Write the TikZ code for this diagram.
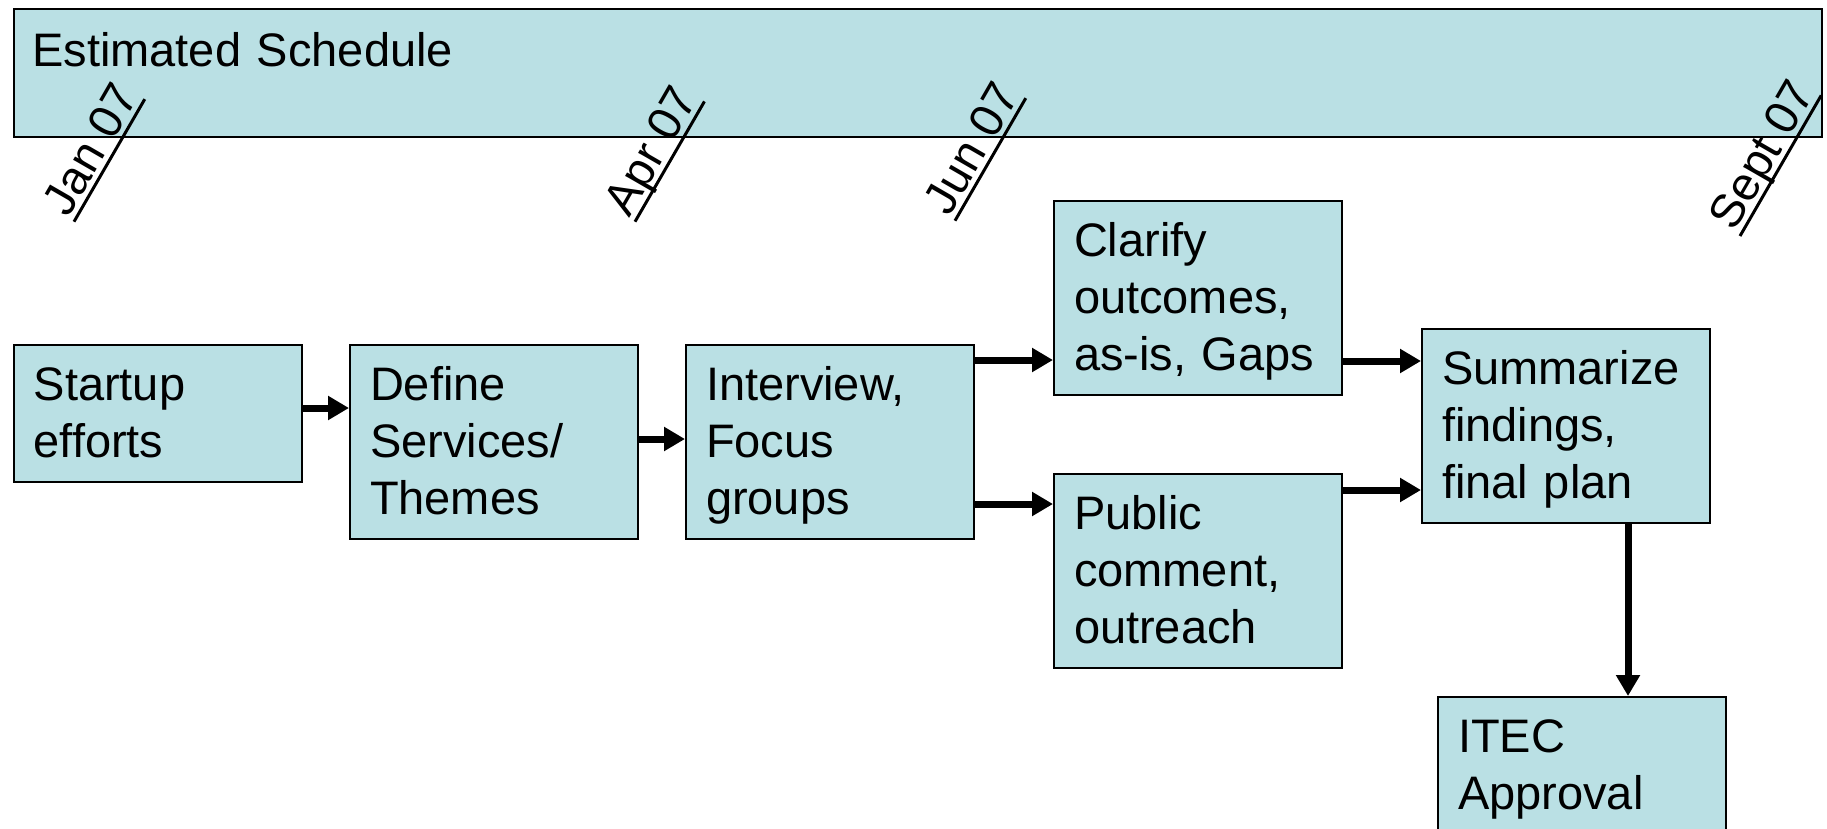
\documentclass[tikz,border=0pt]{standalone}
\usepackage{fontspec}
\setmainfont{Liberation Sans}
\usetikzlibrary{arrows.meta}
\definecolor{boxfill}{RGB}{186,224,228}
\begin{document}
\begin{tikzpicture}[x=1pt,y=-1pt,
  every node/.style={font=\fontsize{47}{57}\selectfont},
  box/.style={draw=black, line width=2pt, fill=boxfill, anchor=north west,
    inner xsep=20pt, inner ysep=0pt, text width=248pt, align=left,
    text height=55pt, text depth=139pt},
  arr/.style={line width=7pt, -{Triangle[length=21pt,width=23pt]}},
  datelbl/.style={rotate=60, anchor=south west, inner xsep=0pt,
    inner ysep=6pt, text depth=0pt},
  uline/.style={line width=3pt}]
\useasboundingbox (0,0) rectangle (1827,828);
\clip (0,0) rectangle (1827,828);

% schedule bar
\node[box, inner xsep=18.6pt, text width=1771pt, text height=56.7pt,
  text depth=71pt] (bar) at (12.7,8.3) {Estimated Schedule};

% milestone dates, underlined and tilted
\node[datelbl] (jan)  at (74,221.7)  {Jan 07};
\node[datelbl] (apr)  at (635,221.7) {Apr 07};
\node[datelbl] (jun)  at (955,220.7) {Jun 07};
\node[datelbl] (sept) at (1740,236)  {Sept 07};
\foreach \d in {jan,apr,jun,sept}
  \draw[uline] (\d.south west) -- (\d.south east);

% process steps
\node[box, text depth=82pt] (startup) at (12.7,344) {Startup\\efforts};
\node[box] (define)    at (349,344)  {Define\\Services/\\Themes};
\node[box] (interview) at (685,344)  {Interview,\\Focus\\groups};
\node[box] (clarify)   at (1053,200) {Clarify\\outcomes,\\as-is, Gaps};
\node[box] (public)    at (1053,473) {Public\\comment,\\outreach};
\node[box] (summarize) at (1421,328) {Summarize\\findings,\\final plan};
\node[box] (itec)      at (1437,696) {ITEC\\Approval};

% flow
\draw[arr] ([yshift=-64pt]startup.north east)
  -- ([yshift=-64pt]startup.north east -| define.west);
\draw[arr] ([yshift=-95pt]define.north east)
  -- ([yshift=-95pt]define.north east -| interview.west);
\draw[arr] ([yshift=-16pt]interview.north east)
  -- ([yshift=-16pt]interview.north east -| clarify.west);
\draw[arr] ([yshift=-160pt]interview.north east)
  -- ([yshift=-160pt]interview.north east -| public.west);
\draw[arr] ([yshift=-161pt]clarify.north east)
  -- ([yshift=-161pt]clarify.north east -| summarize.west);
\draw[arr] ([yshift=-17pt]public.north east)
  -- ([yshift=-17pt]public.north east -| summarize.west);
\draw[arr] ([xshift=207pt]summarize.south west)
  -- ([xshift=207pt]summarize.south west |- itec.north);
\end{tikzpicture}
\end{document}
